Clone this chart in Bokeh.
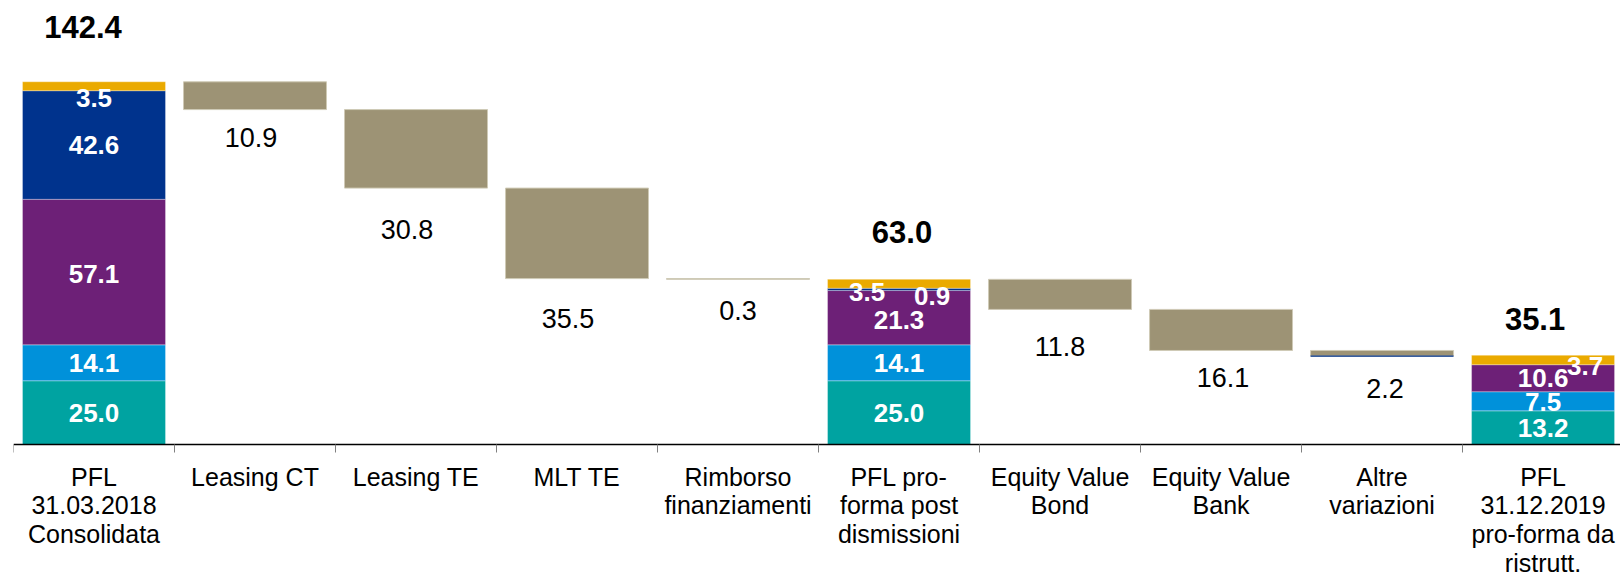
from bokeh.plotting import figure
from bokeh.models import Range1d, FixedTicker, ColumnDataSource
from bokeh.embed import file_html
from bokeh.resources import INLINE
from bokeh.core.properties import value

# ---------------- data ----------------
categories = [
    "PFL\n31.03.2018\nConsolidata", "Leasing CT", "Leasing TE", "MLT TE",
    "Rimborso\nfinanziamenti", "PFL pro-\nforma post\ndismissioni",
    "Equity Value\nBond", "Equity Value\nBank", "Altre\nvariazioni",
    "PFL\n31.12.2019\npro-forma da\nristrutt.",
]
# stacked components (bottom -> top)
stack_start = [25.0, 14.1, 57.1, 42.6, 3.5]
stack_mid = [25.0, 14.1, 21.3, 0.9, 3.5]
stack_end = [13.2, 7.5, 10.6, 0.0, 3.7]
total_labels = ["142.4", "63.0", "35.1"]
decreases_a = [10.9, 30.8, 35.5, 0.3]
decreases_b = [11.8, 16.1, 2.2]

# ---------------- style ----------------
FONT = "Liberation Sans"
seg_colors = ["#00A3A1", "#0091DA", "#6D2077", "#00338D", "#EAAA00"]
beige = "#9D9375"
bar_w = 0.888
# pixel nudges for labels (style only)
seg_label_nudge = {
    0: [(0, 0), (0, 0), (0, 2), (0, 0), (0, 12)],
    5: [(0, 0), (0, 0), (0, 2), (33, 7), (-32, 8)],
    9: [(0, 0), (0, 1), (0, 0), (0, 0), (42, 6)],
}
total_nudge = {0: (-11, -55), 5: (3, -47), 9: (-8, -36)}
dec_nudge = [(-4, 28), (-9, 41), (-9, 40), (0, 31), (0, 37), (2, 27), (3, 32)]

# frame covers the whole canvas; value 0 sits 444px from the top (2.549 px per unit)
p = figure(width=1620, height=574, output_backend="svg", toolbar_location=None,
           x_range=Range1d(0, 9.981), y_range=Range1d(-51.0, 174.2),
           y_axis_location=None, min_border_left=13, min_border_right=0,
           min_border_top=0, min_border_bottom=0)
p.grid.visible = False
p.outline_line_color = None
p.background_fill_color = "white"
p.border_fill_color = "white"

# ---- stacked total bars ----
stacks = {0: stack_start, 5: stack_mid, 9: stack_end}
seg = dict(x=[], bottom=[], top=[], color=[])
wl = dict(x=[], y=[], text=[], dx=[], dy=[])
for idx, vals in stacks.items():
    base = 0.0
    for k, v in enumerate(vals):
        if v > 0:
            seg["x"].append(idx + 0.5)
            seg["bottom"].append(base)
            seg["top"].append(base + v)
            seg["color"].append(seg_colors[k])
            wl["x"].append(idx + 0.5)
            wl["y"].append(base + v / 2)
            wl["text"].append(f"{v:.1f}")
            wl["dx"].append(seg_label_nudge[idx][k][0])
            wl["dy"].append(seg_label_nudge[idx][k][1])
        base += v
p.vbar(x="x", bottom="bottom", top="top", width=bar_w, fill_color="color",
       line_color="white", line_alpha=0.3, line_width=1, source=ColumnDataSource(seg))

# ---- floating decrease bars ----
fl = dict(x=[], bottom=[], top=[])
dl = dict(x=[], y=[], text=[], dx=[], dy=[])
running = sum(stack_start)
dec_idx = [1, 2, 3, 4]
for i, d in zip(dec_idx, decreases_a):
    fl["x"].append(i + 0.5); fl["top"].append(running); fl["bottom"].append(running - d)
    running -= d
running = sum(stack_mid)
dec_idx2 = [6, 7, 8]
for i, d in zip(dec_idx2, decreases_b):
    fl["x"].append(i + 0.5); fl["top"].append(running); fl["bottom"].append(running - d)
    running -= d
for n, (i, d) in enumerate(zip(dec_idx + dec_idx2, decreases_a + decreases_b)):
    dl["x"].append(i + 0.5)
    dl["y"].append(fl["bottom"][n])
    dl["text"].append(f"{d:.1f}")
    dl["dx"].append(dec_nudge[n][0])
    dl["dy"].append(dec_nudge[n][1])
p.vbar(x="x", bottom="bottom", top="top", width=bar_w, fill_color=beige,
       line_color="#CFCAB6", line_width=1, source=ColumnDataSource(fl))
# thin dark-blue line under "Altre variazioni"
p.segment(x0=[fl["x"][-1] - bar_w / 2], x1=[fl["x"][-1] + bar_w / 2],
          y0=[fl["bottom"][-1]], y1=[fl["bottom"][-1]], line_color="#00338D", line_width=1.2)

# ---- labels ----
p.text(x="x", y="y", text="text", x_offset="dx", y_offset="dy", source=ColumnDataSource(wl),
       text_color="white", text_font=value(FONT), text_font_style="bold",
       text_font_size="26px", text_align="center", text_baseline="middle")
p.text(x="x", y="y", text="text", x_offset="dx", y_offset="dy", source=ColumnDataSource(dl),
       text_color="black", text_font=value(FONT), text_font_size="27px",
       text_align="center", text_baseline="middle")
tl = dict(x=[], y=[], text=[], dx=[], dy=[])
for n, (idx, vals) in enumerate(stacks.items()):
    tl["x"].append(idx + 0.5)
    tl["y"].append(sum(vals))
    tl["text"].append(total_labels[n])
    tl["dx"].append(total_nudge[idx][0])
    tl["dy"].append(total_nudge[idx][1])
p.text(x="x", y="y", text="text", x_offset="dx", y_offset="dy", source=ColumnDataSource(tl),
       text_color="black", text_font=value(FONT), text_font_style="bold",
       text_font_size="31px", text_align="center", text_baseline="middle")

# ---- x axis (drawn at value 0 inside the frame) ----
ax = p.xaxis[0]
ax.fixed_location = 0
ax.ticker = FixedTicker(ticks=[i + 0.5 for i in range(len(categories))],
                        minor_ticks=list(range(len(categories) + 1)))
ax.major_label_overrides = {i + 0.5: c for i, c in enumerate(categories)}
ax.major_tick_out = 0
ax.major_tick_in = 0
ax.minor_tick_out = 8
ax.minor_tick_in = 0
ax.minor_tick_line_color = "#808080"
ax.axis_line_color = "black"
ax.axis_line_width = 1.5
ax.major_label_text_font = FONT
ax.major_label_text_font_size = "25px"
ax.major_label_text_color = "black"
ax.major_label_text_line_height = 1.03
ax.major_label_standoff = 10

open("out.html", "w").write(file_html(p, INLINE))
